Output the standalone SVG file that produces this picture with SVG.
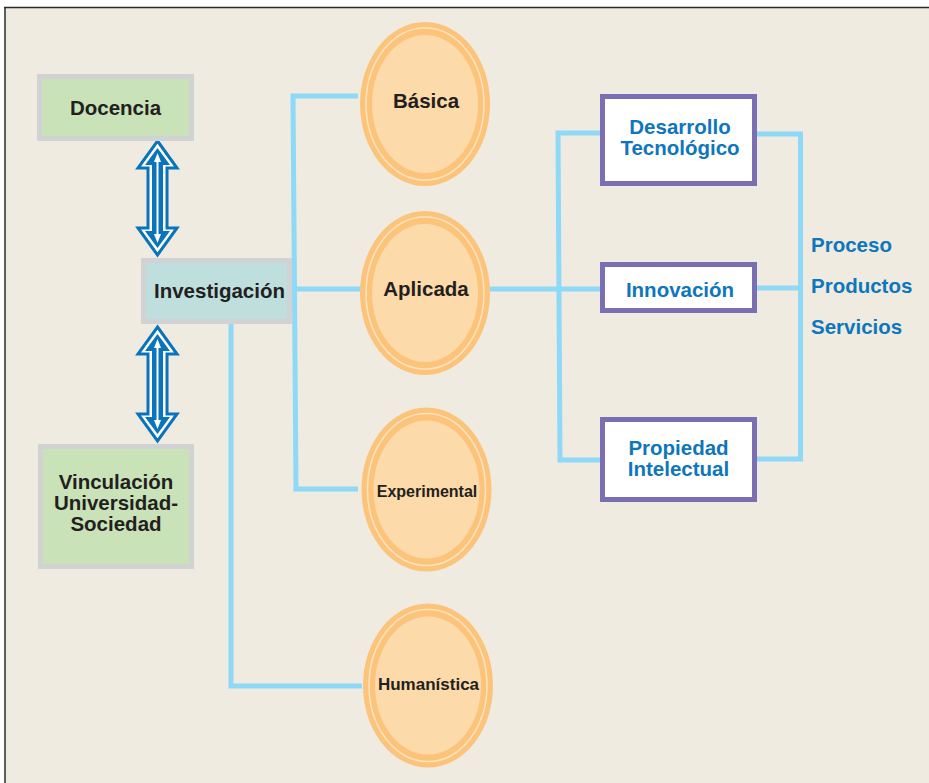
<svg xmlns="http://www.w3.org/2000/svg" width="929" height="783" viewBox="0 0 929 783">
<defs>
<style>
.t{font-family:"Liberation Sans",Arial,sans-serif;font-weight:bold;text-anchor:middle}
.dk{fill:#231f20}
.bl{fill:#0e76bc}
.gbox{stroke:#d1d2d4;stroke-width:5}
.pbox{fill:#ffffff;stroke:#7a6fb3;stroke-width:5}
.con{fill:none;stroke:#8ed8f8;stroke-width:5;stroke-linejoin:miter}
.eo{fill:#fcc47a}
.el{fill:none;stroke:#fde3c0;stroke-width:1.5}
.ei{fill:#fddaa9}
.ao{fill:#ffffff;stroke:#0a74bb;stroke-width:3;stroke-linejoin:miter}
.ai{fill:#0a74bb}
.aw{fill:#ffffff}
</style>
<g id="dblarrow">
<polygon class="ao" points="157.5,141 177,168 167,168 167,228 177,228 157.5,255 138,228 148,228 148,168 138,168"/>
<polygon class="ai" points="157.5,148 170,165 163,165 163,231 170,231 157.5,248 145,231 152,231 152,165 145,165"/>
<rect class="aw" x="156.5" y="160" width="2" height="76"/>
<polygon class="aw" points="157.5,153 161,162 154,162"/>
<polygon class="aw" points="157.5,243 161,234 154,234"/>
</g>
</defs>
<rect x="0" y="0" width="929" height="783" fill="#ffffff"/>
<rect x="5" y="8" width="924" height="775" fill="#efebe1"/>
<line x1="4" y1="7.5" x2="929" y2="7.5" stroke="#2b2b2b" stroke-width="1.5"/>
<line x1="5" y1="7" x2="5" y2="783" stroke="#2b2b2b" stroke-width="1.5"/>

<g id="connectors">
<polyline class="con" points="358,96 293,96 296,489 358,489"/>
<line class="con" x1="293" y1="289" x2="362" y2="289"/>
<polyline class="con" points="231,324 231,686 362,686"/>
<line class="con" x1="490" y1="289" x2="601" y2="289"/>
<polyline class="con" points="601,133 558,133 560,460 601,460"/>
<polyline class="con" points="757,134 800.5,134 800.5,459 757,459"/>
<line class="con" x1="757" y1="288" x2="800" y2="288"/>
<use href="#dblarrow"/>
<use href="#dblarrow" transform="translate(0,186)"/>
</g>

<g id="docencia">
<rect class="gbox" x="39.5" y="76.5" width="152" height="62" fill="#c9e2b8"/>
<text class="t dk" x="115.5" y="115" font-size="20.5">Docencia</text>
</g>
<g id="investigacion">
<rect class="gbox" x="143.5" y="260.5" width="146" height="61" fill="#bfdfdf"/>
<text class="t dk" x="219.5" y="298" font-size="20.5">Investigación</text>
</g>
<g id="vinculacion">
<rect class="gbox" x="40.5" y="446.5" width="151" height="120" fill="#c9e2b8"/>
<text class="t dk" font-size="20.5"><tspan x="116" y="489">Vinculación</tspan><tspan x="116" y="510">Universidad-</tspan><tspan x="116" y="531">Sociedad</tspan></text>
</g>

<g id="basica">
<ellipse class="eo" cx="425" cy="104" rx="65" ry="82"/>
<ellipse class="el" cx="425" cy="104" rx="59" ry="76"/>
<ellipse class="ei" cx="425" cy="104" rx="53" ry="69"/>
<text class="t dk" x="426" y="108" font-size="20.5">Básica</text>
</g>
<g id="aplicada">
<ellipse class="eo" cx="425" cy="293" rx="65" ry="82"/>
<ellipse class="el" cx="425" cy="293" rx="59" ry="76"/>
<ellipse class="ei" cx="425" cy="293" rx="53" ry="69"/>
<text class="t dk" x="426" y="296" font-size="20.5">Aplicada</text>
</g>
<g id="experimental">
<ellipse class="eo" cx="426.5" cy="489.5" rx="65" ry="82"/>
<ellipse class="el" cx="426.5" cy="489.5" rx="59" ry="76"/>
<ellipse class="ei" cx="426.5" cy="489.5" rx="53" ry="69"/>
<text class="t dk" x="427" y="497" font-size="16">Experimental</text>
</g>
<g id="humanistica">
<ellipse class="eo" cx="428" cy="685.5" rx="65" ry="82"/>
<ellipse class="el" cx="428" cy="685.5" rx="59" ry="76"/>
<ellipse class="ei" cx="428" cy="685.5" rx="53" ry="69"/>
<text class="t dk" x="428.5" y="690" font-size="17">Humanística</text>
</g>

<g id="desarrollo">
<rect class="pbox" x="602.5" y="96.5" width="152" height="87"/>
<text class="t bl" font-size="20.5"><tspan x="680" y="134">Desarrollo</tspan><tspan x="680" y="155">Tecnológico</tspan></text>
</g>
<g id="innovacion">
<rect class="pbox" x="602.5" y="264.5" width="152" height="46"/>
<text class="t bl" x="680" y="297" font-size="20.5">Innovación</text>
</g>
<g id="propiedad">
<rect class="pbox" x="602.5" y="419.5" width="152" height="80"/>
<text class="t bl" font-size="20.5"><tspan x="678.5" y="455">Propiedad</tspan><tspan x="678.5" y="476">Intelectual</tspan></text>
</g>
<g id="resultados">
<text class="t bl" font-size="20.5" style="text-anchor:start"><tspan x="811" y="252">Proceso</tspan><tspan x="811" y="293">Productos</tspan><tspan x="811" y="334">Servicios</tspan></text>
</g>
</svg>
